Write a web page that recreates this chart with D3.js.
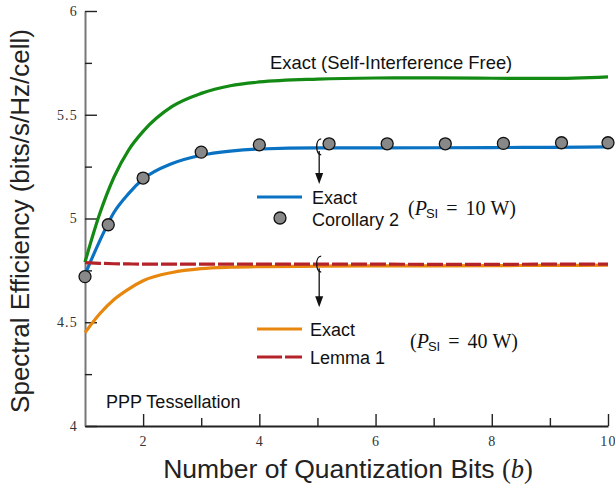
<!DOCTYPE html>
<html>
<head>
<meta charset="utf-8">
<script src="https://cdn.jsdelivr.net/npm/d3@7"></script>
<style>
  body { margin: 0; background: #fff; }
  svg { display: block; }
</style>
</head>
<body>
<div id="chart"></div>
<script>
// Data
let bits = [1, 1.25, 1.5, 1.75, 2, 2.5, 3, 3.5, 4, 5, 6, 7, 8, 9, 10];
let siFree = [4.79, 5.02, 5.2, 5.33, 5.42, 5.54, 5.603, 5.64, 5.658, 5.672, 5.677, 5.678, 5.676, 5.675, 5.683];
let exact10 = [4.73, 4.89, 5.03, 5.12, 5.19, 5.265, 5.305, 5.325, 5.335, 5.34, 5.34, 5.341, 5.342, 5.343, 5.345];
let exact40 = [4.45, 4.54, 4.61, 4.66, 4.70, 4.74, 4.758, 4.765, 4.768, 4.77, 4.772, 4.772, 4.773, 4.774, 4.775];
let lemma40 = [4.787, 4.784, 4.782, 4.781, 4.78, 4.78, 4.78, 4.78, 4.78, 4.78, 4.78, 4.779, 4.779, 4.78, 4.78];
let corBits = [1, 1.4, 2, 3, 4, 5.2, 6.2, 7.2, 8.2, 9.2, 10];
let cor10 = [4.72, 4.97, 5.195, 5.32, 5.355, 5.36, 5.36, 5.36, 5.362, 5.365, 5.365];
let xMajor = [2, 4, 6, 8, 10];
let xMinor = [3, 5, 7, 9];
let yMajor = [4, 4.5, 5, 5.5, 6];
let yMinor = [4.25, 4.75, 5.25, 5.75];

let width = 615, height = 491;

let svg = d3.select("#chart")
  .append("svg")
  .attr("width", width)
  .attr("height", height);

// Scales
let x = d3.scaleLinear().domain([1, 10]).range([85, 608]);
let y = d3.scaleLinear().domain([4, 6]).range([426, 11]);

// Axes
let xAxisEl = svg.append("g")
  .attr("transform", "translate(0," + y(4) + ")")
  .call(d3.axisBottom(x).tickValues(xMajor).tickSizeInner(-12).tickSizeOuter(0)
    .tickPadding(10).tickFormat(d3.format("d")));
svg.append("g")
  .attr("transform", "translate(0," + y(4) + ")")
  .call(d3.axisBottom(x).tickValues(xMinor).tickSizeInner(-8).tickSizeOuter(0).tickFormat(""))
  .select(".domain").remove();

let yAxisEl = svg.append("g")
  .attr("transform", "translate(" + x(1) + ",0)")
  .call(d3.axisLeft(y).tickValues(yMajor).tickSizeInner(-12).tickSizeOuter(0)
    .tickPadding(7).tickFormat(d => String(d)));
svg.append("g")
  .attr("transform", "translate(" + x(1) + ",0)")
  .call(d3.axisLeft(y).tickValues(yMinor).tickSizeInner(-7).tickSizeOuter(0).tickFormat(""))
  .select(".domain").remove();

svg.selectAll(".tick line").attr("stroke", "#222").attr("stroke-width", 1.4);
svg.selectAll(".tick text")
  .attr("font-family", "'Liberation Serif', serif")
  .attr("font-size", 14)
  .attr("letter-spacing", 1.2)
  .attr("fill", "#333");
xAxisEl.select(".domain").attr("stroke", "#222").attr("stroke-width", 2);
yAxisEl.select(".domain").attr("stroke", "#777").attr("stroke-width", 2);

// Curves
let line = d3.line()
  .x((d, i) => x(bits[i]))
  .y(d => y(d))
  .curve(d3.curveMonotoneX);

let curves = svg.append("g").attr("fill", "none").attr("stroke-width", 3.2);
curves.append("path").datum(siFree).attr("d", line).attr("stroke", "#138a13");
curves.append("path").datum(exact10).attr("d", line).attr("stroke", "#0a72c2");
curves.append("path").datum(exact40).attr("d", line).attr("stroke", "#e8870e");
curves.append("path").datum(lemma40).attr("d", line).attr("stroke", "#b5232a")
  .attr("stroke-dasharray", "16,3");

// Corollary 2 markers
svg.append("g")
  .selectAll("circle")
  .data(corBits)
  .join("circle")
  .attr("cx", d => x(d))
  .attr("cy", (d, i) => y(cor10[i]))
  .attr("r", 6)
  .attr("fill", "#888")
  .attr("stroke", "#111")
  .attr("stroke-width", 1.3);

// Brace marks with arrows
function mark(bx, v, len) {
  let cx = x(bx), cy = y(v);
  let g = svg.append("g").attr("stroke", "#111").attr("fill", "none").attr("stroke-width", 1.3);
  g.append("path")
    .attr("d", "M" + (cx + 2) + "," + (cy - 8) + " C" + (cx - 4) + "," + (cy - 8) + " " + (cx - 4) + "," + (cy + 7) + " " + (cx + 2) + "," + (cy + 8));
  g.append("line")
    .attr("x1", cx).attr("x2", cx)
    .attr("y1", cy + 4).attr("y2", cy + len - 8);
  svg.append("path")
    .attr("d", "M" + (cx - 4) + "," + (cy + len - 11) + " L" + (cx + 4) + "," + (cy + len - 11) + " L" + cx + "," + (cy + len) + " Z")
    .attr("fill", "#111");
}
mark(5.03, 5.345, 37);
mark(5.03, 4.78, 43);

// Text
let sans = "'Liberation Sans', Arial, sans-serif";
let serif = "'Liberation Serif', serif";

svg.append("text")
  .attr("x", 270).attr("y", 69)
  .attr("font-family", sans).attr("font-size", 18.4).attr("fill", "#111")
  .text("Exact (Self-Interference Free)");

svg.append("text")
  .attr("x", 106).attr("y", 408)
  .attr("font-family", sans).attr("font-size", 18).attr("fill", "#111")
  .text("PPP Tessellation");

// Legend entries
function legendLine(x1, ly, color, dash) {
  svg.append("line")
    .attr("x1", x1).attr("x2", x1 + 45)
    .attr("y1", ly).attr("y2", ly)
    .attr("stroke", color).attr("stroke-width", 3.2)
    .attr("stroke-dasharray", dash);
}
function legendText(lx, ly, t) {
  svg.append("text")
    .attr("x", lx).attr("y", ly)
    .attr("font-family", sans).attr("font-size", 18).attr("fill", "#111")
    .text(t);
}
legendLine(257, 197, "#0a72c2", null);
legendText(312, 204, "Exact");
svg.append("circle").attr("cx", 280).attr("cy", 218).attr("r", 6)
  .attr("fill", "#888").attr("stroke", "#111").attr("stroke-width", 1.3);
legendText(312, 226, "Corollary 2");

legendLine(257, 329, "#e8870e", null);
legendText(310, 336, "Exact");
legendLine(257, 357, "#b5232a", "25,3");
legendText(310, 364, "Lemma 1");

function psi(px, py, val) {
  let t = svg.append("text")
    .attr("x", px).attr("y", py)
    .attr("font-family", serif).attr("font-size", 20).attr("fill", "#111");
  t.append("tspan").text("(");
  t.append("tspan").attr("font-style", "italic").text("P");
  t.append("tspan").attr("font-family", sans).attr("font-size", 13).attr("dy", 3).attr("dx", -1).text("SI");
  t.append("tspan").attr("dy", -3).attr("dx", 8).text("=");
  t.append("tspan").attr("dx", 8).text(val);
  t.append("tspan").attr("dx", 5).text("W");
  t.append("tspan").text(")");
}
psi(408, 215, "10");
psi(410, 348, "40");

// Axis titles
svg.append("text")
  .attr("transform", "translate(29,221) rotate(-90)")
  .attr("text-anchor", "middle")
  .attr("font-family", sans).attr("font-size", 26).attr("fill", "#222")
  .text("Spectral Efficiency (bits/s/Hz/cell)");

let xt = svg.append("text")
  .attr("x", 348).attr("y", 478)
  .attr("text-anchor", "middle")
  .attr("font-family", sans).attr("font-size", 26.5).attr("fill", "#222");
xt.append("tspan").text("Number of Quantization Bits ");
xt.append("tspan").attr("font-family", serif).text("(");
xt.append("tspan").attr("font-family", serif).attr("font-style", "italic").text("b");
xt.append("tspan").attr("font-family", serif).text(")");
</script>
</body>
</html>
